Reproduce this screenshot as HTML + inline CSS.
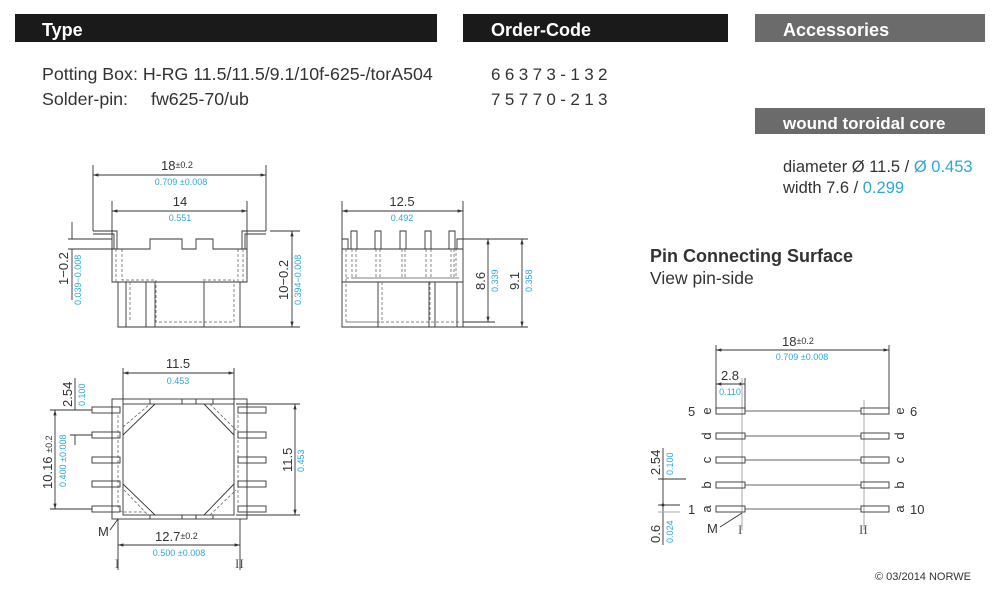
<!DOCTYPE html>
<html><head><meta charset="utf-8"><style>
body{margin:0;background:#fff}
svg{display:block;font-family:"Liberation Sans",Arial,sans-serif}
.l{stroke:#333;stroke-width:0.9;fill:none}
.d{stroke:#555;stroke-width:0.7;fill:none;stroke-dasharray:3 2}
.t{fill:#333;font-size:13px}
.b{fill:#29a8e0;font-size:9px}
</style></head><body>
<svg width="1000" height="593" viewBox="0 0 1000 593" xmlns="http://www.w3.org/2000/svg">
<defs><marker id="a" viewBox="0 0 10 10" refX="10" refY="5" markerWidth="6" markerHeight="6" orient="auto-start-reverse"><path d="M0,2 L10,5 L0,8z" fill="#333"/></marker></defs>
<!-- headers -->
<rect x="15" y="14" width="422" height="28" fill="#1a1a1a"/>
<text x="42" y="36" fill="#fff" font-size="18" font-weight="bold">Type</text>
<rect x="463" y="14" width="265" height="28" fill="#1a1a1a"/>
<text x="491" y="36" fill="#fff" font-size="18" font-weight="bold">Order-Code</text>
<rect x="755" y="14" width="230" height="28" fill="#6b6b6b"/>
<text x="783" y="36" fill="#fff" font-size="18" font-weight="bold">Accessories</text>
<rect x="755" y="108" width="230" height="26" fill="#6b6b6b"/>
<text x="783" y="129" fill="#fff" font-size="17" font-weight="bold">wound toroidal core</text>
<g fill="#333" font-size="17">
<text x="42" y="80" font-size="17.8">Potting Box: H-RG 11.5/11.5/9.1/10f-625-/torA504</text>
<text x="42" y="105" font-size="17.8">Solder-pin:</text><text x="151" y="105" font-size="17.8">fw625-70/ub</text>
<text x="491" y="80" letter-spacing="4.4">66373-132</text>
<text x="491" y="105" letter-spacing="4.4">75770-213</text>
<text x="783" y="172" font-size="16.5">diameter Ø 11.5 / <tspan fill="#29a8e0">Ø 0.453</tspan></text>
<text x="783" y="193" font-size="16.5">width 7.6 / <tspan fill="#29a8e0">0.299</tspan></text>
<text x="650" y="262" font-weight="bold" font-size="18">Pin Connecting Surface</text>
<text x="650" y="284" font-size="17.5">View pin-side</text>
</g>
<text x="875" y="580" fill="#333" font-size="11">© 03/2014 NORWE</text>

<!-- front view -->
<g>
<path class="l" d="M93,165V231M266,165V231M112,201V249M247,201V249"/>
<line class="l" x1="93" y1="175" x2="266" y2="175" marker-start="url(#a)" marker-end="url(#a)"/>
<line class="l" x1="112" y1="211" x2="247" y2="211" marker-start="url(#a)" marker-end="url(#a)"/>
<text class="t" x="161" y="170">18<tspan font-size="9" dy="-2">±0.2</tspan></text>
<text class="b" x="181" y="185" text-anchor="middle">0.709 ±0.008</text>
<text class="t" x="180" y="206" text-anchor="middle">14</text>
<text class="b" x="180" y="221" text-anchor="middle">0.551</text>
<path class="l" d="M93,231H117V249M93,234H114V249M266,231H242V249M266,234H245V249"/>
<path class="l" d="M112,249H150V239H182V249H196V239H213V249H247V282H112ZM118,282V327H240V282M126,282V327M146,282V327M155,282V327M204,282V327"/>
<path class="d" d="M116,249V282M122,249V280H156V322H234V280H202V280M238,249V282M243,249V282M130,282V322"/>
<path class="l" d="M68,239H112M68,249H112M72,222V239M72,249V300"/>
<text class="t" transform="translate(68,285) rotate(-90)">1−0.2</text>
<text class="b" transform="translate(81,305) rotate(-90)">0.039−0.008</text>
<path class="l" d="M270,231H300M240,327H300"/>
<line class="l" x1="292" y1="231" x2="292" y2="327" marker-start="url(#a)" marker-end="url(#a)"/>
<text class="t" transform="translate(288,300) rotate(-90)">10−0.2</text>
<text class="b" transform="translate(301,305) rotate(-90)">0.394−0.008</text>
</g>

<!-- side view -->
<g>
<path class="l" d="M342,201V249M463,201V249"/>
<line class="l" x1="342" y1="211" x2="463" y2="211" marker-start="url(#a)" marker-end="url(#a)"/>
<text class="t" x="402" y="206" text-anchor="middle">12.5</text>
<text class="b" x="402" y="221" text-anchor="middle">0.492</text>
<path class="l" d="M342,239H348V249M463,239H457V249M342,249H463V327H342Z M342,282H463M378,282V327M429,282V327M435,282V327M457,282V327"/>
<path class="l" d="M351,249V231H357V249M375,249V231H381V249M400,249V231H406V249M425,249V231H431V249M449,249V231H455V249"/>
<path class="d" d="M346,249V322H380M352,249V278H456V249M356,249V278M376,249V278M380,249V278M402,249V278M405,249V278M426,249V278M431,249V278M451,249V278M454,249V278M346,278H460M346,322H460M382,282V322M430,282V322"/>
<path class="l" d="M463,239H528M463,322H495M463,327H528"/>
<line class="l" x1="488" y1="239" x2="488" y2="322" marker-start="url(#a)" marker-end="url(#a)"/>
<line class="l" x1="522" y1="239" x2="522" y2="327" marker-start="url(#a)" marker-end="url(#a)"/>
<text class="t" transform="translate(485,290) rotate(-90)">8.6</text>
<text class="b" transform="translate(498,292) rotate(-90)">0.339</text>
<text class="t" transform="translate(519,290) rotate(-90)">9.1</text>
<text class="b" transform="translate(532,292) rotate(-90)">0.358</text>
</g>

<!-- bottom view -->
<g>
<rect class="l" x="112" y="399" width="135" height="120"/>
<rect class="l" x="123" y="404" width="111" height="111"/>
<path class="l" d="M123,435L155,404M204,404L234,435M123,484L155,515M204,515L234,484M182,404V399M196,404V399M182,515V519M196,515V519M150,404V399M213,404V399M150,515V519M213,515V519"/>
<path class="d" d="M123,427L150,404M210,404L236,430M124,490L148,515M210,515L236,490M118,415V505Q118,512 125,512H145M238,415V505"/>
<g class="l">
<rect x="92" y="407" width="28" height="6"/><rect x="92" y="432" width="28" height="6"/><rect x="92" y="457" width="28" height="6"/><rect x="92" y="481" width="28" height="6"/><rect x="92" y="506" width="28" height="6"/>
<rect x="238" y="407" width="28" height="6"/><rect x="238" y="432" width="28" height="6"/><rect x="238" y="457" width="28" height="6"/><rect x="238" y="481" width="28" height="6"/><rect x="238" y="506" width="28" height="6"/>
</g>
<path class="l" d="M123,368V404M234,368V404M236,404H300M236,515H300M50,410H92M50,509H92M70,435H92M118,519V570M240,519V570M118,519L110,530"/>
<line class="l" x1="123" y1="373" x2="234" y2="373" marker-start="url(#a)" marker-end="url(#a)"/>
<text class="t" x="178" y="368" text-anchor="middle">11.5</text>
<text class="b" x="178" y="384" text-anchor="middle">0.453</text>
<line class="l" x1="295" y1="404" x2="295" y2="515" marker-start="url(#a)" marker-end="url(#a)"/>
<text class="t" transform="translate(292,472) rotate(-90)">11.5</text>
<text class="b" transform="translate(304,472) rotate(-90)">0.453</text>
<line class="l" x1="55" y1="410" x2="55" y2="509" marker-start="url(#a)" marker-end="url(#a)"/>
<text class="t" transform="translate(52,489) rotate(-90)">10.16 <tspan font-size="9">±0.2</tspan></text>
<text class="b" transform="translate(66,487) rotate(-90)">0.400 ±0.008</text>
<path class="l" d="M75,378V410M75,435V445"/>
<text class="t" transform="translate(72,407) rotate(-90)">2.54</text>
<text class="b" transform="translate(85,406) rotate(-90)">0.100</text>
<line class="l" x1="118" y1="545" x2="240" y2="545" marker-start="url(#a)" marker-end="url(#a)"/>
<text class="t" x="155" y="541">12.7<tspan font-size="9" dy="-2">±0.2</tspan></text>
<text class="b" x="179" y="556" text-anchor="middle">0.500 ±0.008</text>
<text class="t" x="98" y="536">M</text>
<text x="115" y="568" font-family="Liberation Serif" font-size="13" fill="#555">I</text>
<text x="235" y="568" font-family="Liberation Serif" font-size="13" fill="#555">II</text>
</g>

<!-- pin surface -->
<g>
<path class="l" d="M716,345V411M889,345V411"/>
<line class="l" x1="716" y1="350" x2="889" y2="350" marker-start="url(#a)" marker-end="url(#a)"/>
<text class="t" x="782" y="346">18<tspan font-size="9" dy="-2">±0.2</tspan></text>
<text class="b" x="802" y="360" text-anchor="middle">0.709 ±0.008</text>
<line class="l" x1="716" y1="384" x2="745" y2="384" marker-start="url(#a)" marker-end="url(#a)"/>
<text class="t" x="730" y="380" text-anchor="middle">2.8</text>
<text class="b" x="730" y="395" text-anchor="middle">0.110</text>
<path d="M742,378V530M864,400V530" stroke="#aaa" stroke-width="1" fill="none"/>
<path class="l" d="M745,378V411"/>
<g class="l">
<path d="M745,411H861M745,436H861M745,460H861M745,485H861M745,509H861" stroke="#666"/>
<rect x="716" y="408" width="29" height="6"/><rect x="716" y="433" width="29" height="6"/><rect x="716" y="457" width="29" height="6"/><rect x="716" y="482" width="29" height="6"/><rect x="716" y="506" width="29" height="6"/>
<rect x="861" y="408" width="28" height="6"/><rect x="861" y="433" width="28" height="6"/><rect x="861" y="457" width="28" height="6"/><rect x="861" y="482" width="28" height="6"/><rect x="861" y="506" width="28" height="6"/>
</g>
<g class="t" font-size="14">
<text x="688" y="416">5</text><text x="910" y="416">6</text><text x="688" y="514">1</text><text x="910" y="514">10</text>
<text transform="translate(711,411) rotate(-90)" text-anchor="middle">e</text>
<text transform="translate(711,436) rotate(-90)" text-anchor="middle">d</text>
<text transform="translate(711,460) rotate(-90)" text-anchor="middle">c</text>
<text transform="translate(711,485) rotate(-90)" text-anchor="middle">b</text>
<text transform="translate(711,509) rotate(-90)" text-anchor="middle">a</text>
<text transform="translate(904,411) rotate(-90)" text-anchor="middle">e</text>
<text transform="translate(904,436) rotate(-90)" text-anchor="middle">d</text>
<text transform="translate(904,460) rotate(-90)" text-anchor="middle">c</text>
<text transform="translate(904,485) rotate(-90)" text-anchor="middle">b</text>
<text transform="translate(904,509) rotate(-90)" text-anchor="middle">a</text>
</g>
<path class="l" d="M658,479H686M658,505H680M663,448V545M742,513L720,527"/>
<circle cx="663" cy="505" r="1.5" fill="#333"/>
<path d="M658,512H680" stroke="#aaa"/>
<text class="t" transform="translate(660,475) rotate(-90)">2.54</text>
<text class="b" transform="translate(673,475) rotate(-90)">0.100</text>
<text class="t" transform="translate(660,543) rotate(-90)">0.6</text>
<text class="b" transform="translate(673,543) rotate(-90)">0.024</text>
<text class="t" x="707" y="533">M</text>
<text x="738" y="534" font-family="Liberation Serif" font-size="13" fill="#555">I</text>
<text x="859" y="534" font-family="Liberation Serif" font-size="13" fill="#555">II</text>
</g>
</svg>
</body></html>
